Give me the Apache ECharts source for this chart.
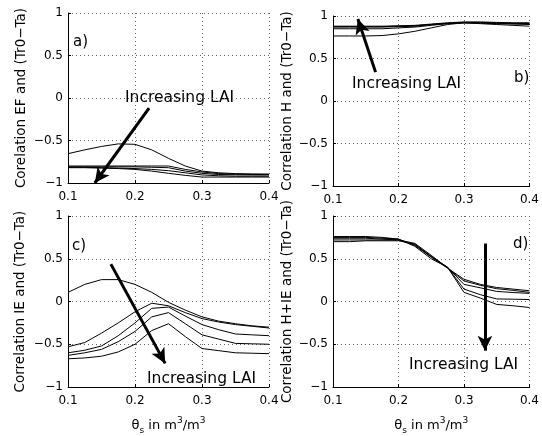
<!DOCTYPE html>
<html><head><meta charset="utf-8">
<script src="https://cdn.jsdelivr.net/npm/echarts@6/dist/echarts.min.js"></script>
<style>html,body{margin:0;padding:0;background:#fff}#c{width:542px;height:436px}</style>
</head><body><div id="c"></div>
<script>
const thetaS = [0.1,0.125,0.15,0.175,0.2,0.225,0.25,0.275,0.3,0.325,0.35,0.375,0.4];
const xTicks = [0.1,0.2,0.3,0.4];
const yTicks = [-1,-0.5,0,0.5,1];

const efLAI1 = [-0.655,-0.61,-0.57,-0.54,-0.545,-0.61,-0.71,-0.8,-0.86,-0.88,-0.89,-0.893,-0.895];
const efLAI2 = [-0.80,-0.80,-0.80,-0.80,-0.80,-0.80,-0.80,-0.84,-0.87,-0.89,-0.895,-0.9,-0.9];
const efLAI3 = [-0.81,-0.81,-0.81,-0.81,-0.81,-0.815,-0.82,-0.86,-0.886,-0.9,-0.903,-0.905,-0.905];
const efLAI4 = [-0.815,-0.815,-0.82,-0.825,-0.83,-0.84,-0.855,-0.88,-0.905,-0.915,-0.92,-0.92,-0.92];
const efLAI5 = [-0.82,-0.82,-0.825,-0.83,-0.84,-0.86,-0.886,-0.91,-0.93,-0.93,-0.93,-0.93,-0.93];

const hLAI1 = [0.765,0.765,0.765,0.77,0.79,0.82,0.86,0.90,0.92,0.91,0.90,0.89,0.88];
const hLAI2 = [0.85,0.85,0.85,0.85,0.86,0.87,0.89,0.91,0.92,0.915,0.91,0.905,0.90];
const hLAI3 = [0.87,0.87,0.87,0.87,0.875,0.88,0.90,0.91,0.92,0.92,0.915,0.91,0.91];
const hLAI4 = [0.875,0.875,0.875,0.875,0.88,0.885,0.90,0.915,0.925,0.925,0.92,0.915,0.915];
const hLAI5 = [0.88,0.88,0.88,0.88,0.885,0.89,0.905,0.92,0.93,0.93,0.925,0.92,0.92];

const ieLAI1 = [0.107,0.2,0.256,0.256,0.2,0.107,-0.01,-0.1,-0.18,-0.23,-0.26,-0.285,-0.3];
const ieLAI2 = [-0.53,-0.48,-0.37,-0.25,-0.12,-0.02,-0.05,-0.13,-0.2,-0.24,-0.27,-0.29,-0.31];
const ieLAI3 = [-0.6,-0.57,-0.52,-0.4,-0.25,-0.08,-0.065,-0.17,-0.27,-0.33,-0.38,-0.39,-0.4];
const ieLAI4 = [-0.63,-0.6,-0.56,-0.47,-0.35,-0.18,-0.13,-0.26,-0.39,-0.44,-0.49,-0.495,-0.5];
const ieLAI5 = [-0.67,-0.66,-0.64,-0.59,-0.5,-0.34,-0.26,-0.41,-0.55,-0.575,-0.6,-0.605,-0.61];

const hieLAI1 = [0.70,0.70,0.71,0.71,0.71,0.67,0.52,0.39,0.26,0.20,0.164,0.145,0.126];
const hieLAI2 = [0.72,0.72,0.72,0.72,0.72,0.68,0.54,0.39,0.24,0.19,0.15,0.13,0.107];
const hieLAI3 = [0.74,0.74,0.74,0.73,0.72,0.665,0.53,0.40,0.20,0.16,0.118,0.105,0.095];
const hieLAI4 = [0.75,0.75,0.75,0.74,0.73,0.655,0.52,0.40,0.145,0.08,0.03,0.027,0.023];
const hieLAI5 = [0.76,0.76,0.76,0.75,0.73,0.645,0.50,0.40,0.107,0.04,-0.034,-0.05,-0.07];

const yNames = ['Corelation EF and (Tr0\u2212Ta)','Correlation H and (Tr0\u2212Ta)','Correlation IE and (Tr0\u2212Ta)','Correlation H+IE and (Tr0\u2212Ta)'];
const panelLetters = ['a)','b)','c)','d)'];
const annotText = 'Increasing LAI';
// arrows in data coordinates [start, tip]
const arrowA = [[0.221,-0.118],[0.14,-1.0]];
const arrowB = [[0.165,0.34],[0.138,0.965]];
const arrowC = [[0.164,0.437],[0.245,-0.724]];
const arrowD = [[0.332,0.678],[0.332,-0.575]];

const panels = [
  {curves:[efLAI1,efLAI2,efLAI3,efLAI4,efLAI5], arrow:arrowA},
  {curves:[hLAI1,hLAI2,hLAI3,hLAI4,hLAI5], arrow:arrowB},
  {curves:[ieLAI1,ieLAI2,ieLAI3,ieLAI4,ieLAI5], arrow:arrowC},
  {curves:[hieLAI1,hieLAI2,hieLAI3,hieLAI4,hieLAI5], arrow:arrowD}
];

const FONT = 'DejaVu Sans';
const grids = [
  {left:68, top:13, width:201, height:170},
  {left:333, top:16, width:199, height:170},
  {left:68, top:216, width:201, height:174},
  {left:333, top:216, width:199, height:174}
];
const yNameGaps = [40,36,41,36];

const xAxes = [], yAxes = [], series = [];
const dotted = {show:true, lineStyle:{color:'#666', width:1, type:[1,3]}};
panels.forEach((p,i)=>{
  xAxes.push({
    type:'value', gridIndex:i, min:xTicks[0], max:xTicks[xTicks.length-1], interval:0.1,
    axisLine:{show:true, onZero:false, lineStyle:{color:'#000', width:1}},
    axisTick:{show:true, inside:true, length:3, lineStyle:{color:'#000'}},
    axisLabel:{color:'#000', fontFamily:FONT, fontSize:12, margin:8, formatter:v=>v.toFixed(1)},
    splitLine:dotted,
    name: i>=2 ? '{a|\u03b8}{s|s}{a| in m}{p|3}{a|/m}{p|3}' : '',
    nameLocation:'middle', nameGap:29,
    nameTextStyle:{color:'#000', fontFamily:FONT, rich:{
      a:{fontFamily:FONT, fontSize:13, color:'#000', lineHeight:19, verticalAlign:'middle'},
      s:{fontFamily:FONT, fontSize:9, color:'#000', verticalAlign:'bottom', lineHeight:19},
      p:{fontFamily:FONT, fontSize:9, color:'#000', verticalAlign:'top', lineHeight:19}
    }}
  });
  yAxes.push({
    type:'value', gridIndex:i, min:yTicks[0], max:yTicks[yTicks.length-1], interval:0.5,
    axisLine:{show:true, onZero:false, lineStyle:{color:'#000', width:1}},
    axisTick:{show:true, inside:true, length:3, lineStyle:{color:'#000'}},
    axisLabel:{color:'#000', fontFamily:FONT, fontSize:12, margin:5, formatter:v=>(v<0?'\u2212':'')+String(Math.abs(v))},
    splitLine:dotted,
    name:yNames[i], nameLocation:'middle', nameRotate:90, nameGap:yNameGaps[i],
    nameTextStyle:{color:'#000', fontFamily:FONT, fontSize:13.5}
  });
  p.curves.forEach((c,k)=>{
    const s = {
      type:'line', xAxisIndex:i, yAxisIndex:i, showSymbol:false, symbol:'none', silent:true,
      data: thetaS.map((x,j)=>[x,c[j]]),
      lineStyle:{color:'#000', width:1}, z:2
    };
    if(k===0){
      s.markLine = {
        silent:true, symbol:['none','arrow'], symbolSize:[11,15], animation:false,
        label:{show:false},
        lineStyle:{color:'#000', width:3, type:'solid'},
        data:[[{coord:p.arrow[0]},{coord:p.arrow[1]}]]
      };
    }
    series.push(s);
  });
});

const textStyle = {fill:'#000', fontFamily:FONT};
const graphic = [
  {type:'text', left:73, top:35, style:Object.assign({text:panelLetters[0], fontSize:15}, textStyle)},
  {type:'text', left:514, top:71, style:Object.assign({text:panelLetters[1], fontSize:15}, textStyle)},
  {type:'text', left:72, top:239, style:Object.assign({text:panelLetters[2], fontSize:15}, textStyle)},
  {type:'text', left:513, top:237, style:Object.assign({text:panelLetters[3], fontSize:15}, textStyle)},
  {type:'text', left:125, top:90, style:Object.assign({text:annotText, fontSize:15.5}, textStyle)},
  {type:'text', left:352, top:76, style:Object.assign({text:annotText, fontSize:15.5}, textStyle)},
  {type:'text', left:147, top:371, style:Object.assign({text:annotText, fontSize:15.5}, textStyle)},
  {type:'text', left:409, top:357, style:Object.assign({text:annotText, fontSize:15.5}, textStyle)}
];

const chart = echarts.init(document.getElementById('c'), null, {renderer:'canvas'});
chart.setOption({
  animation:false, backgroundColor:'#fff',
  grid:grids, xAxis:xAxes, yAxis:yAxes, series:series, graphic:graphic
});
</script></body></html>
